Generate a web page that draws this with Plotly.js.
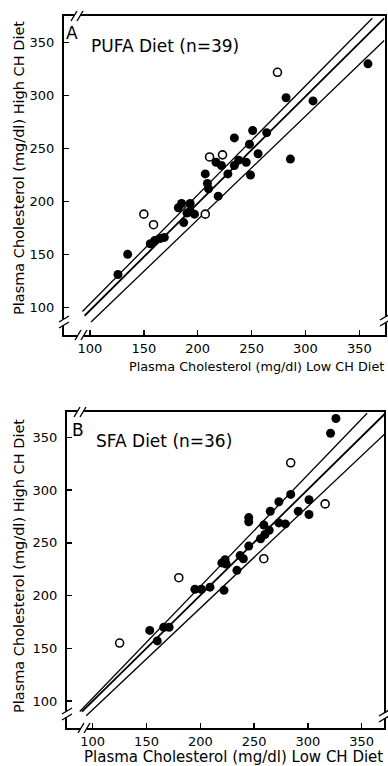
<!DOCTYPE html>
<html>
<head>
<meta charset="utf-8">
<script src="https://cdn.plot.ly/plotly-3.0.1.min.js"></script>
<style>html,body{margin:0;padding:0;background:#fff;}#chart{width:388px;height:766px;}</style>
</head>
<body>
<div id="chart"></div>
<script>
// ---- Panel A: PUFA diet (n=39) ----
const pufaFilledX = [358, 282, 307, 251, 264, 234, 248, 256, 286, 217, 222, 234, 238, 245, 228, 249, 207, 209, 210, 219, 185, 182, 193, 193, 197, 190, 187, 156, 160, 165, 169, 135, 126];
const pufaFilledY = [330, 298, 295, 267, 265, 260, 254, 245, 240, 237, 234, 234, 239, 237, 226, 225, 226, 217, 212, 205, 198, 194, 198, 191, 188, 189, 180, 160, 163, 165, 166, 150, 131];
const pufaOpenX = [274, 211, 223, 150, 159, 207];
const pufaOpenY = [322, 242, 244, 188, 178, 188];
const pufaUpperX = [93, 362];
const pufaUpperY = [96, 373];
const pufaMidX = [95, 373];
const pufaMidY = [92, 373];
const pufaLowerX = [101, 373];
const pufaLowerY = [86, 352];

// ---- Panel B: SFA diet (n=36) ----
const sfaFilledX = [326, 321, 284, 273, 265, 301, 291, 301, 245, 245, 259, 273, 279, 264, 260, 256, 245, 237, 240, 223, 224, 220, 234, 195, 201, 209, 222, 153, 166, 171, 160];
const sfaFilledY = [368, 354, 296, 289, 280, 291, 280, 277, 274, 270, 267, 269, 268, 262, 258, 254, 247, 238, 235, 234, 230, 231, 224, 206, 206, 208, 205, 167, 170, 170, 157];
const sfaOpenX = [284, 316, 259, 180, 125];
const sfaOpenY = [326, 287, 235, 217, 155];
const sfaUpperX = [88, 355];
const sfaUpperY = [90, 373];
const sfaMidX = [90, 372];
const sfaMidY = [90, 373];
const sfaLowerX = [94, 372];
const sfaLowerY = [86, 354];

const tickVals = [100, 150, 200, 250, 300, 350];
const tickText = ['100', '150', '200', '250', '300', '350'];
const xTitle = 'Plasma Cholesterol (mg/dl) Low CH Diet';
const yTitle = 'Plasma Cholesterol (mg/dl) High CH Diet';

const FONT = 'DejaVu Sans, Arial, sans-serif';

function lineTrace(x, y, w, xa, ya) {
  return {x: x, y: y, mode: 'lines', type: 'scatter', line: {color: '#000', width: w}, xaxis: xa, yaxis: ya, hoverinfo: 'skip', showlegend: false};
}
function ptTrace(x, y, open, xa, ya) {
  return {x: x, y: y, mode: 'markers', type: 'scatter', xaxis: xa, yaxis: ya, showlegend: false,
    marker: {size: open ? 8 : 9, color: open ? '#fff' : '#000', line: {color: '#000', width: open ? 1.6 : 0}}};
}

const data = [
  lineTrace(pufaUpperX, pufaUpperY, 1.3, 'x', 'y'),
  lineTrace(pufaMidX, pufaMidY, 1.8, 'x', 'y'),
  lineTrace(pufaLowerX, pufaLowerY, 1.3, 'x', 'y'),
  ptTrace(pufaFilledX, pufaFilledY, false, 'x', 'y'),
  ptTrace(pufaOpenX, pufaOpenY, true, 'x', 'y'),
  lineTrace(sfaUpperX, sfaUpperY, 1.3, 'x2', 'y2'),
  lineTrace(sfaMidX, sfaMidY, 1.8, 'x2', 'y2'),
  lineTrace(sfaLowerX, sfaLowerY, 1.3, 'x2', 'y2'),
  ptTrace(sfaFilledX, sfaFilledY, false, 'x2', 'y2'),
  ptTrace(sfaOpenX, sfaOpenY, true, 'x2', 'y2')
];

const W = 388, H = 766, ML = 64, MR = 3, MT = 16, MB = 38;
const PW = W - ML - MR, PH = H - MT - MB;
function px(p) { return (p - ML) / PW; }
function py(p) { return (H - MB - p) / PH; }

function axisBase(extra) {
  return Object.assign({
    showline: true, linecolor: '#000', linewidth: 2, mirror: true,
    ticks: 'inside', ticklen: 5, tickwidth: 1.5, tickcolor: '#000',
    tickvals: tickVals, ticktext: tickText,
    showgrid: false, zeroline: false,
    tickfont: {family: FONT, size: 13, color: '#000'}
  }, extra);
}

// axis-break decorations (pixel positions)
const shapes = [];
function brkH(cx, cy) {
  shapes.push({type: 'line', xref: 'paper', yref: 'paper', x0: px(cx - 3), y0: py(cy), x1: px(cx + 3), y1: py(cy), line: {color: '#fff', width: 5}});
  [-3, 3].forEach(d => shapes.push({type: 'line', xref: 'paper', yref: 'paper', x0: px(cx + d - 3), y0: py(cy + 5), x1: px(cx + d + 3), y1: py(cy - 5), line: {color: '#000', width: 1.4}}));
}
function brkV(cx, cy) {
  shapes.push({type: 'line', xref: 'paper', yref: 'paper', x0: px(cx), y0: py(cy - 3), x1: px(cx), y1: py(cy + 3), line: {color: '#fff', width: 5}});
  [-3, 3].forEach(d => shapes.push({type: 'line', xref: 'paper', yref: 'paper', x0: px(cx - 5), y0: py(cy + d + 3), x1: px(cx + 5), y1: py(cy + d - 3), line: {color: '#000', width: 1.4}}));
}
brkH(77, 16); brkV(64, 322); brkH(81, 335); brkV(385, 320);
brkH(80, 412); brkV(67, 714); brkH(84, 728); brkV(384, 716);

function ann(text, x, y, size, opts) {
  return Object.assign({text: text, xref: 'paper', yref: 'paper', x: x, y: y, showarrow: false,
    font: {family: FONT, size: size, color: '#000'}, xanchor: 'center', yanchor: 'middle'}, opts || {});
}

const layout = {
  width: W, height: H,
  margin: {l: ML, r: MR, t: MT, b: MB, pad: 0},
  paper_bgcolor: '#fff', plot_bgcolor: '#fff',
  showlegend: false,
  xaxis: axisBase({domain: [0, 1], range: [75.9, 373.8], anchor: 'y'}),
  yaxis: axisBase({domain: [py(335), 1], range: [73.8, 375.2], anchor: 'x', ticklabelstandoff: 5}),
  xaxis2: axisBase({domain: [px(67), px(384)], range: [76.1, 370.7], anchor: 'y2'}),
  yaxis2: axisBase({domain: [0, py(412)], range: [74.4, 374.2], anchor: 'x2', ticklabelstandoff: 5}),
  shapes: shapes,
  annotations: [
    ann('A', px(72), py(33), 17),
    ann('PUFA Diet (n=39)', px(89), py(46), 17, {xanchor: 'left'}),
    ann('B', px(78), py(430), 17),
    ann('SFA Diet (n=36)', px(94), py(441), 17, {xanchor: 'left'}),
    ann(xTitle, px(256.5), py(366), 12.8),
    ann(xTitle, px(233.5), py(757), 15),
    ann(yTitle, px(19), py(168), 14.5, {textangle: -90}),
    ann(yTitle, px(19), py(566), 14.5, {textangle: -90})
  ]
};

Plotly.newPlot('chart', data, layout, {displayModeBar: false, staticPlot: true});
</script>
</body>
</html>
